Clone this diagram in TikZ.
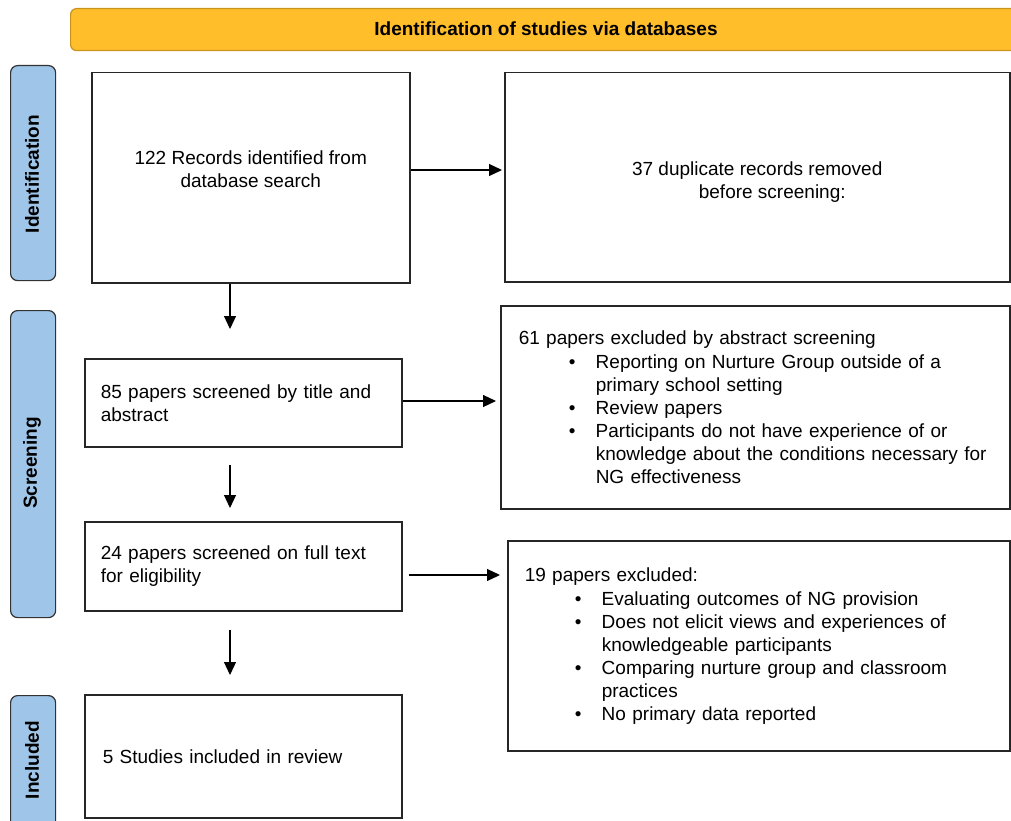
\documentclass[tikz,border=0pt]{standalone}
\usepackage{fontspec}
\setmainfont{Liberation Sans}
\usetikzlibrary{arrows.meta,calc}
\definecolor{bannerfill}{RGB}{255,190,42}
\definecolor{bannerdraw}{RGB}{200,148,30}
\definecolor{sidefill}{RGB}{159,197,232}
\definecolor{sidedraw}{RGB}{50,50,50}
\newcommand{\bul}[1]{\hspace*{50pt}\makebox[27pt][l]{•}#1}
\newcommand{\cont}[1]{\hspace*{77pt}#1}
\begin{document}
\begin{tikzpicture}[x=1pt,y=-1pt,
  every node/.style={font=\fontsize{19}{23}\selectfont},
  box/.style={draw=black!85, line width=1.5pt, fill=white, inner sep=0pt, anchor=north west},
  side/.style={draw=sidedraw, line width=1.2pt, fill=sidefill, rounded corners=7pt, anchor=north west, inner sep=0pt},
  sidetext/.style={rotate=90, font=\fontsize{19}{23}\selectfont\bfseries},
  arr/.style={-{Triangle[length=13pt,width=12pt]}, line width=1.2pt, draw=black}
]
\useasboundingbox (0,0) rectangle (1011,821);
% banner
\node[draw=bannerdraw, line width=1.2pt, fill=bannerfill, rounded corners=6pt, anchor=north west,
  minimum width=960pt, minimum height=42pt, inner sep=0pt] (banner) at (70,8) {};
\node[font=\fontsize{19}{23}\selectfont\bfseries] (bannertext) at (546,29) {Identification of studies via databases};
% side labels
\node[side, minimum width=45pt, minimum height=215pt] (sid) at (10,65) {};
\node[sidetext] (sidt) at (32,174) {Identification};
\node[side, minimum width=45pt, minimum height=307pt] (sscr) at (10,310) {};
\node[sidetext] (sscrt) at (32,463) {Screening};
\node[side, minimum width=45pt, minimum height=140pt] (sinc) at (10,695) {};
\node[sidetext] (sinct) at (32,760) {Included};
% boxes
\node[box, minimum width=318pt, minimum height=210pt, align=center] (A) at (91,72)
  {122 Records identified from\\database search\rule[-18pt]{0pt}{0pt}};
\node[box, minimum width=505pt, minimum height=209pt, align=center] (B) at (504,72)
  {\rule{0pt}{24pt}37 duplicate records removed\\\hspace*{30pt}before screening:};
\node[box, minimum height=88pt, text width=285pt, inner xsep=16pt, align=left] (C) at (84,358)
  {85 papers screened by title and\\abstract};
\node[box, minimum height=203pt, text width=473pt, inner xsep=18pt, align=left] (D) at (500,305)
  {61 papers excluded by abstract screening\\[1pt]
   \bul{Reporting on Nurture Group outside of a}\\
   \cont{primary school setting}\\
   \bul{Review papers}\\
   \bul{Participants do not have experience of or}\\
   \cont{knowledge about the conditions necessary for}\\
   \cont{NG effectiveness}};
\node[box, minimum height=210pt, text width=468pt, inner xsep=17pt, align=left] (F) at (507,540)
  {19 papers excluded:\\[1pt]
   \bul{Evaluating outcomes of NG provision}\\
   \bul{Does not elicit views and experiences of}\\
   \cont{knowledgeable participants}\\
   \bul{Comparing nurture group and classroom}\\
   \cont{practices}\\
   \bul{No primary data reported}};
\node[box, minimum height=89pt, text width=285pt, inner xsep=16pt, align=left] (E) at (84,521)
  {24 papers screened on full text\\for eligibility};
\node[box, minimum height=123pt, text width=281pt, inner xsep=18pt, align=left] (G) at (84,694)
  {5 Studies included in review};
% arrow guide coordinates
\coordinate (vx) at (230,0);
\coordinate (hA) at (0,170);
\coordinate (hC) at (0,401);
\coordinate (hE) at (0,575);
% arrows
\draw[arr] (A.south -| vx) -- ($(C.north -| vx)+(0,-29)$);
\draw[arr] ($(C.south -| vx)+(0,17)$) -- ($(E.north -| vx)+(0,-13)$);
\draw[arr] ($(E.south -| vx)+(0,18)$) -- ($(G.north -| vx)+(0,-19)$);
\draw[arr] (A.east |- hA) -- ($(B.west |- hA)+(-2,0)$);
\draw[arr] (C.east |- hC) -- ($(D.west |- hC)+(-4,0)$);
\draw[arr] ($(E.east |- hE)+(6,0)$) -- ($(F.west |- hE)+(-7,0)$);
\end{tikzpicture}
\end{document}
